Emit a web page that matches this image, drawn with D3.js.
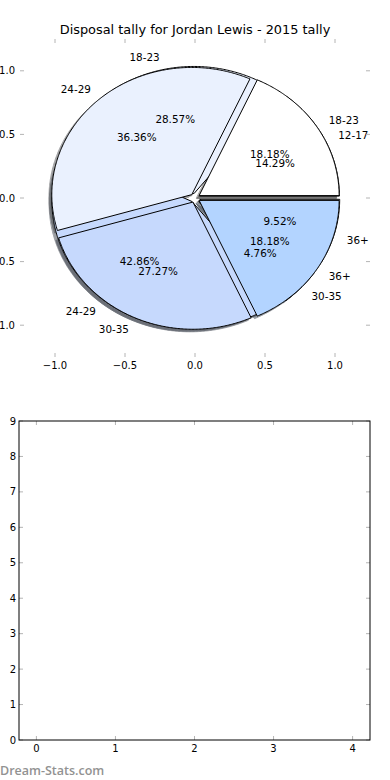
<!DOCTYPE html>
<html>
<head>
<meta charset="utf-8">
<script src="https://cdn.jsdelivr.net/npm/d3@7"></script>
<style>
  body { margin: 0; background: #fff; }
  svg { display: block; font-family: 'DejaVu Sans', sans-serif; }
</style>
</head>
<body>
<svg id="chart"></svg>
<script>
const chartTitle = 'Disposal tally for Jordan Lewis - 2015 tally';
// first pie (drawn underneath)
const firstLabels = ['12-17', '18-23', '24-29', '30-35', '36+'];
const firstValues = [3, 6, 9, 1, 2];
// second pie (drawn on top)
const secondLabels = ['18-23', '24-29', '30-35', '36+'];
const secondValues = [2, 4, 3, 2];
const wedgeColors = ['#ffffff', '#eaf1fe', '#c6d9fd', '#b3d4ff'];
const pieTicks = [-1.0, -0.5, 0.0, 0.5, 1.0];
const emptyXTicks = [0, 1, 2, 3, 4];
const emptyYTicks = [0, 1, 2, 3, 4, 5, 6, 7, 8, 9];
const watermark = 'Dream-Stats.com';

class PieAxes {
  constructor(_config) {
    this.config = {
      parentElement: _config.parentElement,
      left: 20, right: 370, top: 39, bottom: 357,
      explode: 0.035,
      shadowOffset: 0.02
    };
    this.init();
  }

  init() {
    let vis = this;
    vis.svg = d3.select(vis.config.parentElement);

    vis.x = d3.scaleLinear().domain([-1.25, 1.25]).range([vis.config.left, vis.config.right]);
    vis.y = d3.scaleLinear().domain([-1.25, 1.25]).range([vis.config.bottom, vis.config.top]);

    vis.svg.append('text')
      .attr('x', (vis.config.left + vis.config.right) / 2)
      .attr('y', 34)
      .attr('text-anchor', 'middle')
      .style('font-size', '12.9px')
      .text(chartTitle);

    vis.shadowLayer = vis.svg.append('g');
    vis.wedgeLayer = vis.svg.append('g');
    vis.textLayer = vis.svg.append('g');

    vis.line = d3.line().x(d => vis.x(d[0])).y(d => vis.y(d[1]));
    vis.pie = d3.pie().sort(null);

    vis.drawTicks();
  }

  // matplotlib style: angles counter-clockwise from east
  wedgePoints(d, dx, dy) {
    let vis = this;
    const mid = (d.startAngle + d.endAngle) / 2;
    const cx = vis.config.explode * Math.cos(mid) + dx;
    const cy = vis.config.explode * Math.sin(mid) + dy;
    const n = Math.max(2, Math.ceil((d.endAngle - d.startAngle) / 0.01));
    const pts = [[cx, cy]];
    d3.range(n + 1).forEach(i => {
      const a = d.startAngle + (d.endAngle - d.startAngle) * i / n;
      pts.push([cx + Math.cos(a), cy + Math.sin(a)]);
    });
    pts.push([cx, cy]);
    return pts;
  }

  addPie(values, labels) {
    let vis = this;
    const arcs = vis.pie(values);
    const total = d3.sum(values);
    const off = vis.config.shadowOffset;
    const shade = i => {
      const c = d3.rgb(wedgeColors[i % wedgeColors.length]);
      return d3.rgb(c.r * 0.3, c.g * 0.3, c.b * 0.3);
    };

    vis.shadowLayer.selectAll(null)
      .data(arcs)
      .join('path')
      .attr('d', d => vis.line(vis.wedgePoints(d, -off, -off)))
      .attr('fill', (d, i) => shade(i))
      .attr('stroke', (d, i) => shade(i))
      .attr('opacity', 0.5);

    vis.wedgeLayer.selectAll(null)
      .data(arcs)
      .join('path')
      .attr('d', d => vis.line(vis.wedgePoints(d, 0, 0)))
      .attr('fill', (d, i) => wedgeColors[i % wedgeColors.length])
      .attr('stroke', '#000')
      .attr('stroke-width', 1)
      .attr('stroke-linejoin', 'miter');

    arcs.forEach((d, i) => {
      const mid = (d.startAngle + d.endAngle) / 2;
      const lr = 1.1 + vis.config.explode;
      const pr = 0.6 + vis.config.explode;
      const lx = lr * Math.cos(mid);
      vis.textLayer.append('text')
        .attr('x', vis.x(lx))
        .attr('y', vis.y(lr * Math.sin(mid)))
        .attr('dy', '0.35em')
        .attr('text-anchor', lx > 0 ? 'start' : 'end')
        .style('font-size', '10.4px')
        .text(labels[i]);
      vis.textLayer.append('text')
        .attr('x', vis.x(pr * Math.cos(mid)))
        .attr('y', vis.y(pr * Math.sin(mid)))
        .attr('dy', '0.35em')
        .attr('text-anchor', 'middle')
        .style('font-size', '10.4px')
        .text(d3.format('.2f')(d.data / total * 100) + '%');
    });
  }

  drawTicks() {
    let vis = this;
    const c = vis.config;
    const g = vis.svg.append('g').attr('stroke', '#b4b4b4').attr('stroke-width', 1);
    pieTicks.forEach(t => {
      g.append('line').attr('x1', vis.x(t)).attr('x2', vis.x(t)).attr('y1', c.bottom).attr('y2', c.bottom - 4);
      g.append('line').attr('x1', vis.x(t)).attr('x2', vis.x(t)).attr('y1', c.top).attr('y2', c.top + 4);
      g.append('line').attr('y1', vis.y(t)).attr('y2', vis.y(t)).attr('x1', c.left).attr('x2', c.left + 4);
      g.append('line').attr('y1', vis.y(t)).attr('y2', vis.y(t)).attr('x1', c.right).attr('x2', c.right - 4);
    });
    const fmt = d3.format('.1f');
    vis.svg.append('g').selectAll('text')
      .data(pieTicks).join('text')
      .attr('x', d => vis.x(d)).attr('y', 365).attr('dy', '0.35em')
      .attr('text-anchor', 'middle').style('font-size', '10px')
      .text(d => fmt(d));
    vis.svg.append('g').selectAll('text')
      .data(pieTicks).join('text')
      .attr('x', 15).attr('y', d => vis.y(d)).attr('dy', '0.35em')
      .attr('text-anchor', 'end').style('font-size', '10px')
      .text(d => fmt(d));
  }
}

class EmptyAxes {
  constructor(_config) {
    this.config = {
      parentElement: _config.parentElement,
      left: 19, right: 370, top: 421, bottom: 740
    };
    this.init();
  }

  init() {
    let vis = this;
    const c = vis.config;
    vis.svg = d3.select(c.parentElement);
    vis.x = d3.scaleLinear().domain([-0.22, 4.22]).range([c.left, c.right]);
    vis.y = d3.scaleLinear().domain([0, 9]).range([c.bottom, c.top]);

    const g = vis.svg.append('g').attr('stroke', '#b4b4b4').attr('stroke-width', 1);
    emptyXTicks.forEach(t => {
      g.append('line').attr('x1', vis.x(t)).attr('x2', vis.x(t)).attr('y1', c.bottom).attr('y2', c.bottom - 4);
      g.append('line').attr('x1', vis.x(t)).attr('x2', vis.x(t)).attr('y1', c.top).attr('y2', c.top + 4);
    });
    emptyYTicks.forEach(t => {
      g.append('line').attr('y1', vis.y(t)).attr('y2', vis.y(t)).attr('x1', c.left).attr('x2', c.left + 4);
      g.append('line').attr('y1', vis.y(t)).attr('y2', vis.y(t)).attr('x1', c.right).attr('x2', c.right - 4);
    });

    vis.svg.append('rect')
      .attr('x', c.left).attr('y', c.top)
      .attr('width', c.right - c.left).attr('height', c.bottom - c.top)
      .attr('fill', 'none').attr('stroke', '#000').attr('stroke-width', 1);

    vis.svg.append('g').selectAll('text')
      .data(emptyXTicks).join('text')
      .attr('x', d => vis.x(d)).attr('y', 748).attr('dy', '0.35em')
      .attr('text-anchor', 'middle').style('font-size', '10px')
      .text(d => d);
    vis.svg.append('g').selectAll('text')
      .data(emptyYTicks).join('text')
      .attr('x', 16).attr('y', d => vis.y(d)).attr('dy', '0.35em')
      .attr('text-anchor', 'end').style('font-size', '10px')
      .text(d => d);
  }
}

const svg = d3.select('#chart').attr('width', 390).attr('height', 780);
svg.append('rect').attr('width', 390).attr('height', 780).attr('fill', '#fff');

const pieAxes = new PieAxes({ parentElement: '#chart' });
pieAxes.addPie(firstValues, firstLabels);
pieAxes.addPie(secondValues, secondLabels);

new EmptyAxes({ parentElement: '#chart' });

svg.append('text')
  .attr('x', 0).attr('y', 775)
  .style('font-family', "'Open Sans', sans-serif")
  .style('font-size', '12.5px').style('font-weight', 600)
  .attr('fill', '#929292')
  .text(watermark);
</script>
</body>
</html>
